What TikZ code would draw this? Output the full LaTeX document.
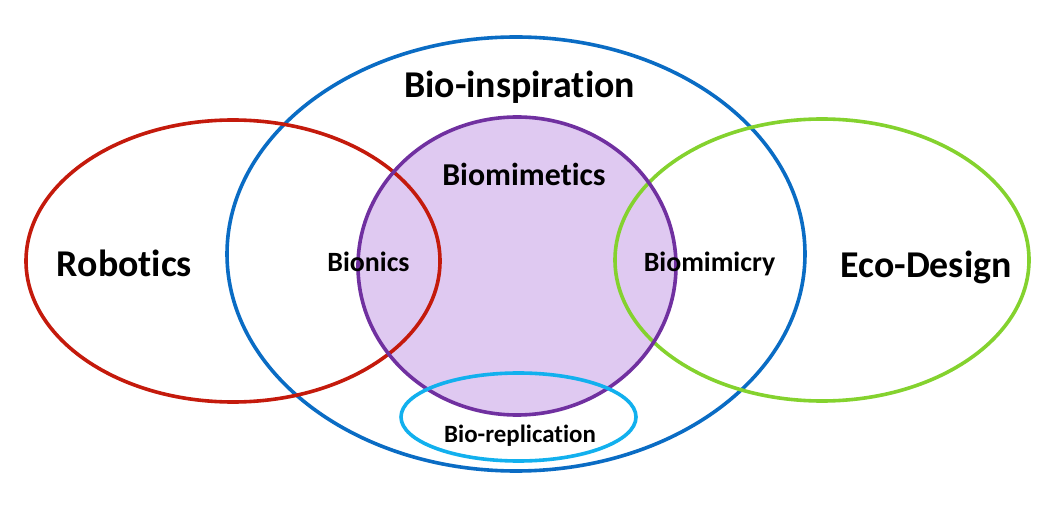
\documentclass[tikz,border=0pt]{standalone}
\usepackage{fontspec}
\setmainfont{Carlito}[Ligatures={NoCommon,NoDiscretionary,NoRare,NoContextual}]
\definecolor{cred}{HTML}{C41A0C}
\definecolor{cblue}{HTML}{0A6CC4}
\definecolor{cgreen}{HTML}{84D22E}
\definecolor{cpurple}{HTML}{7030A0}
\definecolor{cfill}{HTML}{DFC9F1}
\definecolor{ccyan}{HTML}{12B0EE}
\tikzset{
  ring/.style={line width=3.6bp},
  lbl/.style={anchor=base, inner sep=0pt, font=\bfseries},
}
\newcommand{\fsz}[1]{\fontsize{#1}{#1}\selectfont\bfseries}
\begin{document}
\begin{tikzpicture}[x=1bp, y=-1bp]
\useasboundingbox[fill=white] (0,0) rectangle (1059,517);
% outer bio-inspiration
\draw[ring, cblue] (516,254) ellipse [x radius=289, y radius=217];
% biomimetics fill
\fill[cfill] (517,266) ellipse [x radius=159, y radius=149];
% robotics / eco-design
\draw[ring, cred] (233,261) ellipse [x radius=207, y radius=141];
\draw[ring, cgreen] (822,260) ellipse [x radius=207, y radius=141];
% biomimetics outline
\draw[ring, cpurple] (517,266) ellipse [x radius=159, y radius=149];
% bio-replication
\draw[ring, ccyan] (518.5,417) ellipse [x radius=117.5, y radius=44];
% labels
\node[lbl, font=\fsz{38}] (bioinsp) at (519.5,98) {Bio-inspiration};
\node[lbl, font=\fsz{38}] (robotics) at (124.5,277) {Robotics};
\node[lbl, font=\fsz{38}] (eco) at (926,278) {Eco-Design};
\node[lbl, font=\fsz{32}] (biomimetics) at (524,186) {Biomimetics};
\node[lbl, font=\fsz{28}] (bionics) at (368.5,272) {Bionics};
\node[lbl, font=\fsz{28}] (biomimicry) at (709.5,272) {Biomimicry};
\node[lbl, font=\fsz{25}] (biorep) at (520,442) {Bio-replication};
\end{tikzpicture}
\end{document}
